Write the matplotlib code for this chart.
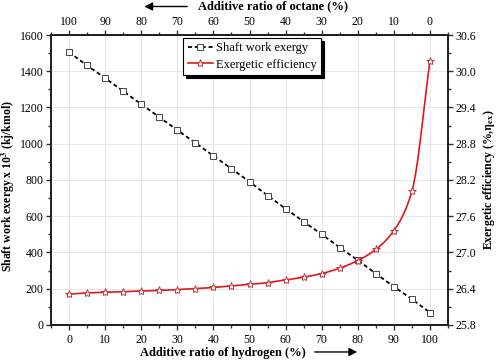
import numpy as np
import matplotlib.pyplot as plt
from matplotlib.lines import Line2D

plt.rcParams['font.family'] = ['Liberation Serif', 'DejaVu Serif']
plt.rcParams['mathtext.fontset'] = 'stix'

hydrogen = [0, 5, 10, 15, 20, 25, 30, 35, 40, 45, 50, 55, 60, 65, 70, 75, 80, 85, 90, 95, 100]
shaft_work = [1505, 1432, 1362, 1290, 1218, 1147, 1075, 1005, 933, 862, 790,
              714, 642, 570, 500, 427, 357, 283, 211, 142, 68]
efficiency = [26.31, 26.33, 26.34, 26.35, 26.36, 26.37, 26.385, 26.40, 26.42, 26.445, 26.47,
              26.50, 26.545, 26.59, 26.65, 26.74, 26.865, 27.05, 27.36, 28.01, 30.17]
octane_ticks = [100, 90, 80, 70, 60, 50, 40, 30, 20, 10, 0]


def smooth(x, y, n=400):
    # monotone cubic (Fritsch-Carlson) just for drawing the curve
    x = np.asarray(x, float)
    y = np.asarray(y, float)
    h = np.diff(x)
    d = np.diff(y) / h
    m = np.zeros_like(y)
    m[0], m[-1] = d[0], d[-1]
    for i in range(1, len(x) - 1):
        if d[i - 1] * d[i] > 0:
            w1 = 2 * h[i] + h[i - 1]
            w2 = h[i] + 2 * h[i - 1]
            m[i] = (w1 + w2) / (w1 / d[i - 1] + w2 / d[i])
    xs = np.linspace(x[0], x[-1], n)
    k = np.clip(np.searchsorted(x, xs) - 1, 0, len(x) - 2)
    t = (xs - x[k]) / h[k]
    h00 = 2 * t**3 - 3 * t**2 + 1
    h10 = t**3 - 2 * t**2 + t
    h01 = -2 * t**3 + 3 * t**2
    h11 = t**3 - t**2
    ys = h00 * y[k] + h10 * h[k] * m[k] + h01 * y[k + 1] + h11 * h[k] * m[k + 1]
    return xs, ys


fig = plt.figure(figsize=(5, 3.61), dpi=100)
ax = fig.add_axes([0.102, 0.10, 0.794, 0.803])

ax.plot(hydrogen, shaft_work, color='black', linestyle=(0, (2.2, 1.6)), linewidth=1.3,
        marker='s', markersize=4, markerfacecolor='white', markeredgecolor='#444444',
        markeredgewidth=0.7, zorder=3)
ax.set_xlim(-5, 105)
ax.set_ylim(0, 1600)
ax.set_xticks(range(0, 101, 10))
ax.set_xticks(range(-5, 106, 5), minor=True)
ax.set_yticks(range(0, 1601, 200))
ax.set_yticks(range(0, 1601, 100), minor=True)
ax.grid(True, color='#e8e8e8', linewidth=0.7)
ax.set_axisbelow(True)

ax2 = ax.twinx()
xs, ys = smooth(hydrogen, efficiency)
ax2.plot(xs, ys, color='#e3161c', linewidth=1.2, zorder=2)
ax2.plot(hydrogen, efficiency, linestyle='none', marker='*', markersize=6,
         markerfacecolor='white', markeredgecolor='#d0343a', markeredgewidth=0.7, zorder=3)
ax2.set_ylim(25.8, 30.6)
ax2.set_yticks(np.arange(25.8, 30.61, 0.6))
ax2.set_yticks(np.arange(25.8, 30.61, 0.3), minor=True)
ax2.set_yticklabels([f'{v:.1f}' for v in np.arange(25.8, 30.61, 0.6)])

ax3 = ax.twiny()
ax3.set_xlim(ax.get_xlim())
ax3.set_xticks(range(0, 101, 10))
ax3.set_xticks(range(-5, 106, 5), minor=True)
ax3.set_xticklabels([str(v) for v in octane_ticks])

for a in (ax, ax2, ax3):
    a.tick_params(which='both', direction='out', labelsize=8.5, width=1, color='#333333', pad=2)
    a.tick_params(which='major', length=3.5)
    a.tick_params(which='minor', length=2)
    for s in a.spines.values():
        s.set_linewidth(1.3)
        s.set_color('#222222')
ax.tick_params(axis='x', pad=3)
ax3.tick_params(axis='x', pad=1.5)

ax.set_ylabel(r'Shaft work exergy x 10$^\mathbf{3}$ (kj/kmol)', fontsize=8.5, fontweight='bold')
ax.yaxis.set_label_coords(-0.085, 0.48)
ax2.set_ylabel(r'Exergetic efficiency (%,$\mathbf{\eta_{ex}}$)', fontsize=8.5, fontweight='bold',
               labelpad=3)

fig.text(0.446, 0.022, 'Additive ratio of hydrogen (%)', fontsize=9, fontweight='bold',
         ha='center', va='center')
ax.annotate('', xy=(0.72, 0.025), xytext=(0.624, 0.025), xycoords='figure fraction',
            arrowprops=dict(arrowstyle='-|>', color='black', lw=1, mutation_scale=12),
            annotation_clip=False)
fig.text(0.545, 0.982, 'Additive ratio of octane (%)', fontsize=9, fontweight='bold',
         ha='center', va='center')
ax.annotate('', xy=(0.283, 0.982), xytext=(0.38, 0.982), xycoords='figure fraction',
            arrowprops=dict(arrowstyle='-|>', color='black', lw=1, mutation_scale=12),
            annotation_clip=False)

handles = [
    Line2D([], [], color='black', linestyle=(0, (2.2, 1.6)), lw=1.3, marker='s', markersize=4,
           markerfacecolor='white', markeredgecolor='#444444', markeredgewidth=0.7),
    Line2D([], [], color='#e3161c', lw=1.2, marker='*', markersize=6,
           markerfacecolor='white', markeredgecolor='#d0343a', markeredgewidth=0.7),
]
leg = ax2.legend(handles, ['Shaft work exergy', 'Exergetic efficiency'], loc='upper left',
                 bbox_to_anchor=(0.333, 0.99), fontsize=9, frameon=True, fancybox=False,
                 shadow={'color': 'black', 'alpha': 1}, handlelength=2.0, handletextpad=0.3,
                 borderpad=0.35, labelspacing=0.35, borderaxespad=0)
leg.get_frame().set_edgecolor('black')
leg.get_frame().set_linewidth(0.8)

fig.savefig('out.png', dpi=100)
